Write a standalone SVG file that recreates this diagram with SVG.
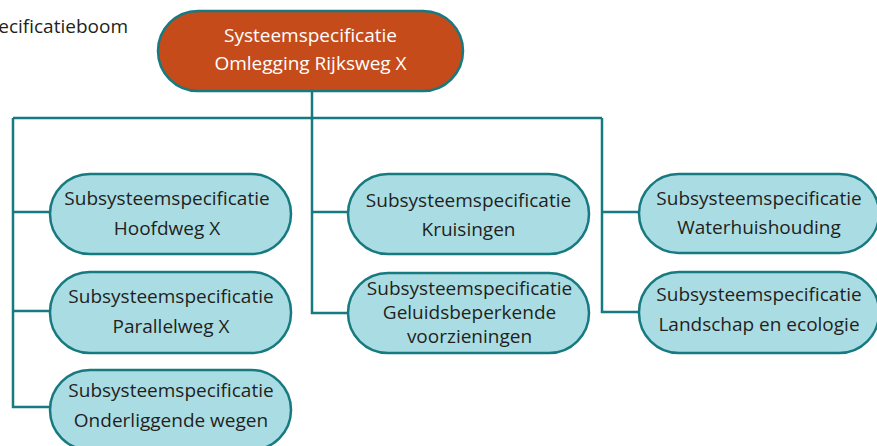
<svg xmlns="http://www.w3.org/2000/svg" width="877" height="446" viewBox="0 0 877 446">
  <style>
    .conn { fill: none; stroke: #177a80; stroke-width: 2.5; }
    .sub rect { fill: #aadde3; stroke: #177a80; stroke-width: 2.5; }
    .sub text { font-family: "Open Sans", "Noto Sans", sans-serif; font-size: 19px; fill: #231f20; text-anchor: middle; }
    .sub text.tight { font-size: 18px; }
    .root rect { fill: #c54b1b; stroke: #177a80; stroke-width: 2.5; }
    .root text { font-family: "Open Sans", "Noto Sans", sans-serif; font-size: 19px; fill: #ffffff; text-anchor: middle; }
    .title { font-family: "Open Sans", "Noto Sans", sans-serif; font-size: 19px; fill: #231f20; text-anchor: end; }
  </style>

  <text class="title" x="128" y="33">ecificatieboom</text>

  <!-- tree connectors -->
  <g id="connectors">
    <path class="conn" d="M312,91 V118"/>
    <path class="conn" d="M13,118 H602"/>
    <path class="conn" d="M13,118 V407 H50"/>
    <path class="conn" d="M13,212 H50"/>
    <path class="conn" d="M13,311 H50"/>
    <path class="conn" d="M312,118 V313 H348"/>
    <path class="conn" d="M312,212 H348"/>
    <path class="conn" d="M602,118 V312 H639"/>
    <path class="conn" d="M602,212 H639"/>
  </g>

  <g id="root" class="root">
    <rect x="158" y="11" width="305" height="80" rx="40"/>
    <text x="310.5" y="42">Systeemspecificatie</text>
    <text x="310.5" y="70">Omlegging Rijksweg X</text>
  </g>

  <g id="hoofdweg" class="sub">
    <rect x="50" y="174" width="241" height="80" rx="40"/>
    <text x="167" y="205">Subsysteemspecificatie</text>
    <text x="167" y="235">Hoofdweg X</text>
  </g>

  <g id="parallelweg" class="sub">
    <rect x="50" y="272" width="241" height="81" rx="40"/>
    <text x="171" y="303">Subsysteemspecificatie</text>
    <text x="171" y="333">Parallelweg X</text>
  </g>

  <g id="onderliggende" class="sub">
    <rect x="50" y="370" width="241" height="80" rx="40"/>
    <text x="171" y="397">Subsysteemspecificatie</text>
    <text x="171" y="427">Onderliggende wegen</text>
  </g>

  <g id="kruisingen" class="sub">
    <rect x="348" y="174" width="241" height="80" rx="40"/>
    <text x="468.5" y="207">Subsysteemspecificatie</text>
    <text x="468.5" y="236">Kruisingen</text>
  </g>

  <g id="geluid" class="sub">
    <rect x="348" y="273" width="241" height="80" rx="40"/>
    <text x="469.5" y="295">Subsysteemspecificatie</text>
    <text x="469.5" y="319">Geluidsbeperkende</text>
    <text x="469.5" y="343">voorzieningen</text>
  </g>

  <g id="water" class="sub">
    <rect x="639" y="174" width="240" height="79" rx="39.5"/>
    <text x="759" y="205">Subsysteemspecificatie</text>
    <text x="759" y="234">Waterhuishouding</text>
  </g>

  <g id="landschap" class="sub">
    <rect x="639" y="272" width="240" height="81" rx="40"/>
    <text x="759" y="301">Subsysteemspecificatie</text>
    <text x="759" y="331">Landschap en ecologie</text>
  </g>
</svg>
